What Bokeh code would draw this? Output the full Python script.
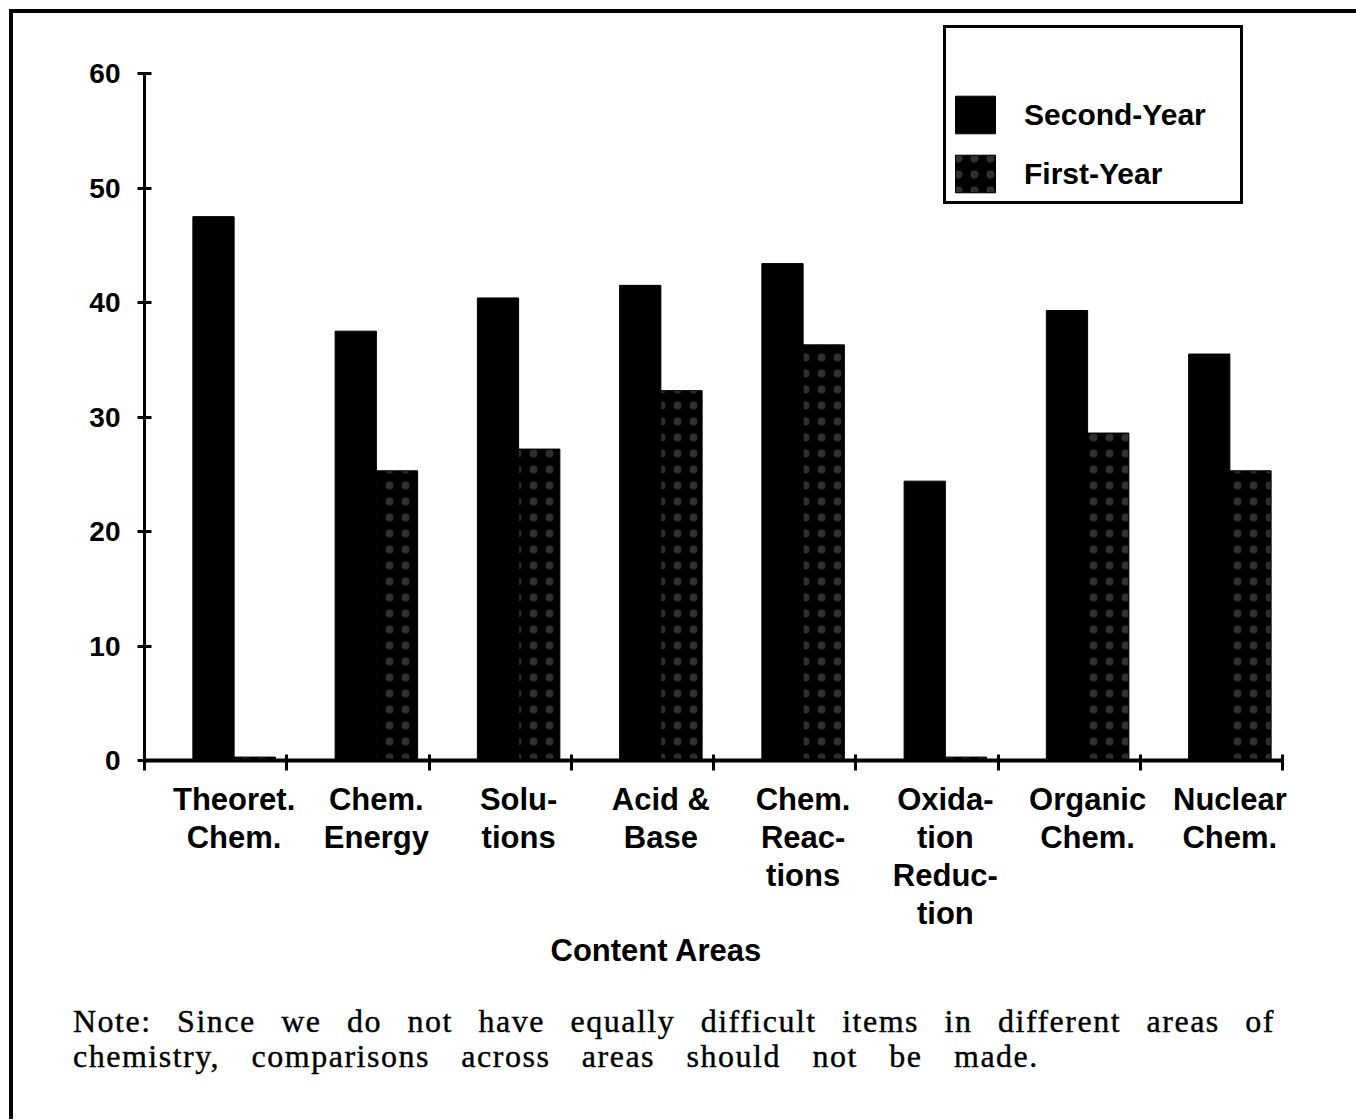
from bokeh.plotting import figure
from bokeh.layouts import column
from bokeh.models import Range1d, LinearAxis, FixedTicker, Legend, LegendItem, Title, Div
from bokeh.embed import file_html
from bokeh.resources import INLINE

# ---- data ----
categories = ["Theoret.\nChem.", "Chem.\nEnergy", "Solu-\ntions", "Acid &\nBase",
              "Chem.\nReac-\ntions", "Oxida-\ntion\nReduc-\ntion", "Organic\nChem.", "Nuclear\nChem."]
second_year = [47.5, 37.5, 40.4, 41.5, 43.4, 24.4, 39.3, 35.5]
first_year = [0.3, 25.3, 27.2, 32.3, 36.3, 0.3, 28.6, 25.3]
y_ticks = [0, 10, 20, 30, 40, 50, 60]
series_names = ["Second-Year", "First-Year"]
x_title = "Content Areas"
note_lines = ["Note:  Since we do not have equally difficult items in different areas of",
              "chemistry, comparisons across areas should not be made."]

n = len(categories)
SANS = "Liberation Sans"
SERIF = "Liberation Serif"

p = figure(frame_width=1138, frame_height=740,
           x_range=Range1d(0, n), y_range=Range1d(0, 64.63),
           x_axis_type=None, y_axis_type=None,
           output_backend="svg", toolbar_location=None,
           min_border_left=131, min_border_right=70, min_border_top=7, min_border_bottom=230,
           background_fill_color="white", border_fill_color="white")
p.outline_line_color = None

# bars
bw = 0.29
x_second = [i + 0.485 for i in range(n)]
x_first = [i + 0.775 for i in range(n)]
r_second = p.vbar(x=x_second, top=second_year, width=bw, bottom=0,
                  fill_color="black", line_color="black")
r_first = p.vbar(x=x_first, top=first_year, width=bw, bottom=0,
                 fill_color="black", line_color="black",
                 hatch_pattern="dot", hatch_color="#303030", hatch_scale=16, hatch_weight=1.0)

# y axis
yaxis = LinearAxis(ticker=FixedTicker(ticks=y_ticks), bounds=(0, 60),
                   axis_line_width=3, axis_line_color="black",
                   major_tick_in=7, major_tick_out=7, major_tick_line_width=3,
                   major_tick_line_color="black", minor_tick_line_color=None,
                   major_label_text_font=SANS, major_label_text_font_size="28px",
                   major_label_text_font_style="bold",
                   major_label_text_color="black", major_label_standoff=17)
p.add_layout(yaxis, "left")

# x axis with boundary ticks
xaxis = LinearAxis(ticker=FixedTicker(ticks=list(range(n + 1))), bounds=(0, n),
                   axis_line_width=4, axis_line_color="black",
                   major_tick_in=6, major_tick_out=10, major_tick_line_width=3,
                   major_tick_line_color="black", minor_tick_line_color=None,
                   major_label_text_font_size="0px", major_label_standoff=0,
                   major_label_overrides={i: "" for i in range(n + 1)})
p.add_layout(xaxis, "below")

# category label axis
p.extra_x_ranges = {"labels": Range1d(-0.63, n - 0.63)}
laxis = LinearAxis(x_range_name="labels", ticker=FixedTicker(ticks=list(range(n))),
                   major_label_overrides={i: c for i, c in enumerate(categories)},
                   axis_line_color=None, major_tick_line_color=None, minor_tick_line_color=None,
                   major_tick_out=0, major_tick_in=0,
                   major_label_text_font=SANS, major_label_text_font_size="31px",
                   major_label_text_font_style="bold",
                   major_label_text_color="black", major_label_text_line_height=1.09,
                   major_label_standoff=11)
p.add_layout(laxis, "below")

p.add_layout(Title(text=x_title, align="left", offset=406, text_font=SANS,
                   text_font_size="31px", text_font_style="bold", text_color="black",
                   standoff=-5), "below")

# legend
legend = Legend(items=[LegendItem(label=series_names[0], renderers=[r_second]),
                       LegendItem(label=series_names[1], renderers=[r_first])],
                location=(799, 556), orientation="vertical",
                title=" ", title_text_font_size="36px", title_standoff=17,
                glyph_width=50, glyph_height=47, label_height=47, label_width=212,
                label_standoff=24, spacing=12, padding=4, margin=0,
                label_text_font=SANS, label_text_font_size="30px",
                label_text_font_style="bold", label_text_color="black",
                border_line_color="black", border_line_width=3, border_line_alpha=1.0,
                background_fill_color="white", background_fill_alpha=1.0)
p.add_layout(legend)

# note below the chart (justified, as in the original typescript)
note_html = (
    f'<div style="width:1202px;text-align:justify;text-align-last:justify;'
    f'letter-spacing:1.5px;">{note_lines[0]}</div>'
    f'<div style="letter-spacing:1.5px;word-spacing:22px;white-space:nowrap;">{note_lines[1]}</div>'
)
note = Div(text=note_html, width=1280, height=110,
           styles={"font-family": SERIF, "font-size": "32px", "line-height": "35px",
                   "color": "black", "-webkit-text-stroke": "0.4px black",
                   "margin-left": "60px", "margin-top": "14px"})

layout = column(p, note, styles={"border-left": "4px solid black", "border-top": "4px solid black",
                                 "margin-left": "9px", "margin-top": "9px",
                                 "background-color": "white"})

open("out.html", "w").write(file_html(layout, INLINE))
